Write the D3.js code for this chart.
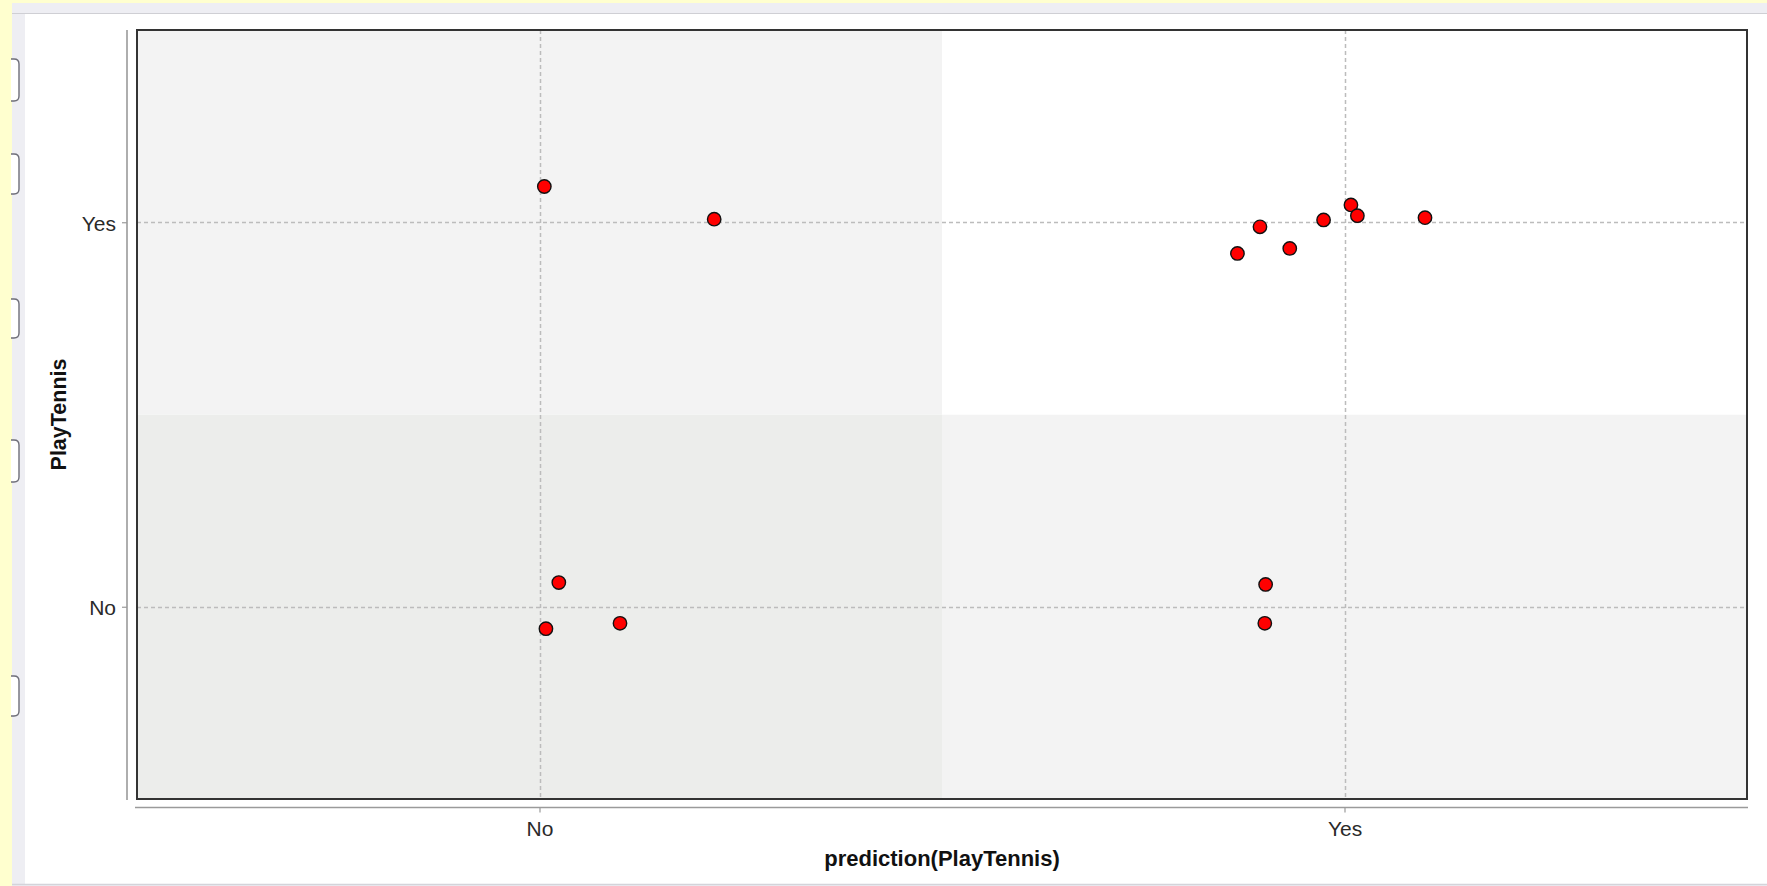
<!DOCTYPE html>
<html>
<head>
<meta charset="utf-8">
<script src="https://cdn.jsdelivr.net/npm/d3@7"></script>
<style>
  html, body { margin: 0; padding: 0; background: #ffffff; }
  svg { display: block; }
  text { font-family: "Liberation Sans", Arial, sans-serif; }
</style>
</head>
<body>
<svg id="chart" width="1767" height="886"></svg>
<script>
// ---------- data ----------
const categories = ["No", "Yes"];
const xLabel = "prediction(PlayTennis)";
const yLabel = "PlayTennis";
// one entry per example (14 rows of the PlayTennis set)
const predicted = ["No","No","No","No","No","Yes","Yes","Yes","Yes","Yes","Yes","Yes","Yes","Yes"];
const actual    = ["No","No","No","Yes","Yes","Yes","Yes","Yes","Yes","Yes","Yes","Yes","No","No"];
// jitter added to each point (in category units)
const jitterX = [0.024, 0.008, 0.100, 0.006, 0.217, -0.133, -0.105, -0.068, -0.026, 0.008, 0.016, 0.100, -0.098, -0.099];
const jitterY = [0.063, -0.057, -0.043, 0.093, 0.008, -0.081, -0.012, -0.068, 0.006, 0.045, 0.017, 0.012, 0.058, -0.043];

// ---------- layout ----------
const W = 1767, H = 886;
const plot = { left: 137, top: 30, right: 1747, bottom: 799 };
const svg = d3.select("#chart");

// window chrome
svg.append("rect").attr("x", 0).attr("y", 0).attr("width", W).attr("height", H).attr("fill", "#ffffcf");
svg.append("rect").attr("x", 12).attr("y", 3).attr("width", W - 12).attr("height", H - 3).attr("fill", "#eeeef3");
svg.append("rect").attr("x", 25).attr("y", 14).attr("width", W - 25).attr("height", 870).attr("fill", "#ffffff");
svg.append("line").attr("x1", 12).attr("x2", W).attr("y1", 13.5).attr("y2", 13.5).attr("stroke", "#cfcfd4").attr("stroke-width", 1);
svg.append("line").attr("x1", 12).attr("x2", W).attr("y1", 884.5).attr("y2", 884.5).attr("stroke", "#d4d4da").attr("stroke-width", 1.5);

// clipped side widgets on the left edge
[[59, 101], [154, 194], [299, 338], [440, 482], [676, 716]].forEach(([a, b]) => {
  const r = 5, x0 = 11, x1 = 19;
  svg.append("path")
    .attr("d", `M${x0},${a}H${x1 - r}Q${x1},${a} ${x1},${a + r}V${b - r}Q${x1},${b} ${x1 - r},${b}H${x0}`)
    .attr("fill", "#ffffff").attr("stroke", "#6e6e78").attr("stroke-width", 1.4);
});

// ---------- scales ----------
const x = d3.scaleLinear().domain([-0.5, categories.length - 0.5]).range([plot.left, plot.right]);
const y = d3.scaleLinear().domain([-0.5, categories.length - 0.5]).range([plot.bottom, plot.top]);
const idx = c => categories.indexOf(c);

// quadrant shading (pred x actual)
const shade = { "No|No": "#ecedeb", "No|Yes": "#f3f3f3", "Yes|No": "#f3f3f3", "Yes|Yes": "#ffffff" };
const cells = [];
categories.forEach(p => categories.forEach(a => cells.push({ p, a })));
svg.append("g").selectAll("rect").data(cells).join("rect")
  .attr("x", d => x(idx(d.p) - 0.5))
  .attr("y", d => y(idx(d.a) + 0.5))
  .attr("width", d => x(idx(d.p) + 0.5) - x(idx(d.p) - 0.5))
  .attr("height", d => y(idx(d.a) - 0.5) - y(idx(d.a) + 0.5))
  .attr("fill", d => shade[d.p + "|" + d.a]);

// grid lines
const grid = svg.append("g").attr("stroke", "#bcbcbc").attr("stroke-width", 1.5).attr("stroke-dasharray", "4,3");
grid.selectAll("line.v").data(categories).join("line").attr("class", "v")
  .attr("x1", (d, i) => Math.round(x(i)) + 0.5).attr("x2", (d, i) => Math.round(x(i)) + 0.5)
  .attr("y1", plot.top).attr("y2", plot.bottom);
grid.selectAll("line.h").data(categories).join("line").attr("class", "h")
  .attr("y1", (d, i) => Math.round(y(i)) + 0.5).attr("y2", (d, i) => Math.round(y(i)) + 0.5)
  .attr("x1", plot.left).attr("x2", plot.right);

// points
const pts = predicted.map((p, i) => ({ px: idx(p) + jitterX[i], py: idx(actual[i]) + jitterY[i] }));
svg.append("g").selectAll("circle").data(pts).join("circle")
  .attr("cx", d => x(d.px)).attr("cy", d => y(d.py)).attr("r", 6.7)
  .attr("fill", "#ff0000").attr("stroke", "#111").attr("stroke-width", 1.4);

// plot frame
svg.append("rect")
  .attr("x", plot.left).attr("y", plot.top)
  .attr("width", plot.right - plot.left).attr("height", plot.bottom - plot.top)
  .attr("fill", "none").attr("stroke", "#333").attr("stroke-width", 2);

// ---------- axes ----------
const fmt = i => categories[i];
const yAxis = svg.append("g").attr("transform", "translate(127,0)")
  .call(d3.axisLeft(y).tickValues(categories.map((c, i) => i)).tickFormat(fmt).tickSize(5).tickSizeOuter(0).tickPadding(6));
const xAxis = svg.append("g").attr("transform", "translate(0,807.5)")
  .call(d3.axisBottom(x).tickValues(categories.map((c, i) => i)).tickFormat(fmt).tickSize(5).tickSizeOuter(0));
[xAxis, yAxis].forEach(g => {
  g.select(".domain").attr("stroke", "#9a9a9a").attr("stroke-width", 1.6);
  g.selectAll(".tick line").attr("stroke", "#9a9a9a").attr("stroke-width", 1.2);
  g.selectAll(".tick text").attr("fill", "#2a2a2a").style("font-size", "21px").style("font-family", "'Liberation Sans', Arial, sans-serif");
});
xAxis.select(".domain").attr("d", `M${plot.left - 2},0H${plot.right + 1}`);
yAxis.select(".domain").attr("d", `M0,${plot.top}V${plot.bottom + 1}`);
yAxis.selectAll(".tick text").attr("x", -11).attr("dy", "0.38em");
xAxis.selectAll(".tick text").attr("y", 28.5).attr("dy", "0");

// axis titles
svg.append("text").attr("x", (plot.left + plot.right) / 2).attr("y", 866)
  .attr("text-anchor", "middle").attr("font-weight", "bold").attr("font-size", 22).attr("fill", "#111")
  .text(xLabel);
svg.append("text").attr("transform", `translate(66,${(plot.top + plot.bottom) / 2}) rotate(-90)`)
  .attr("text-anchor", "middle").attr("font-weight", "bold").attr("font-size", 21.5).attr("fill", "#111")
  .text(yLabel);
</script>
</body>
</html>
